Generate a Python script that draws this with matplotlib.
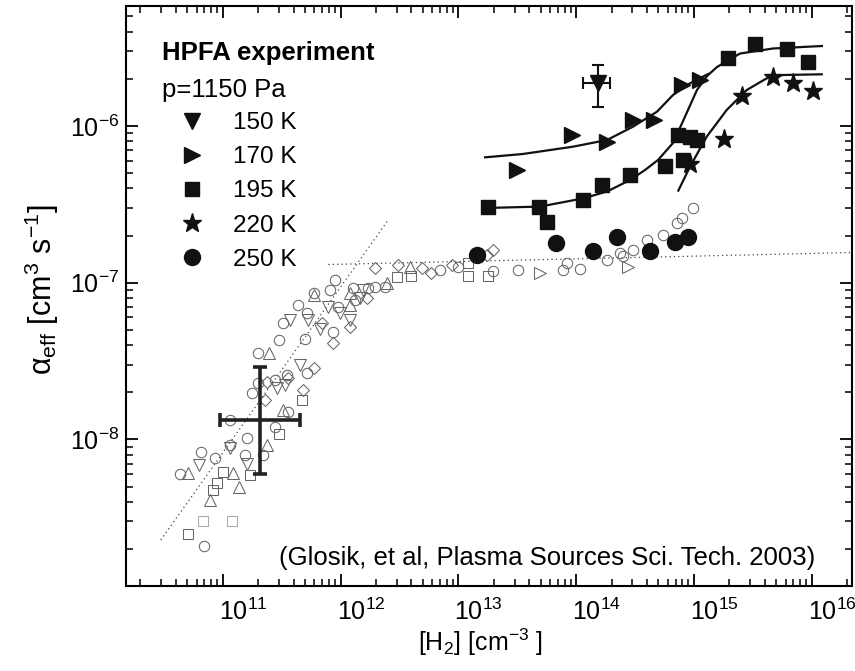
import matplotlib
matplotlib.use("Agg")
import matplotlib.pyplot as plt
from matplotlib.transforms import ScaledTranslation
import numpy as np

plt.rcParams['font.family'] = ['Liberation Sans', 'DejaVu Sans']
plt.rcParams['mathtext.fontset'] = 'custom'
plt.rcParams['mathtext.rm'] = 'Liberation Sans'
plt.rcParams['mathtext.it'] = 'Liberation Sans:italic'
plt.rcParams['mathtext.bf'] = 'Liberation Sans:bold'
plt.rcParams['mathtext.default'] = 'regular'
plt.rcParams['axes.unicode_minus'] = False

# ---------------- HPFA data (filled symbols) ----------------
x_150 = [1.54e14]
y_150 = [1.87e-6]
x_150_lo, x_150_hi = [1.15e14], [1.94e14]
y_150_lo, y_150_hi = [1.315e-6], [2.45e-6]

x_170 = [3.13e13, 9.18e13, 1.82e14, 3.06e14, 4.59e14, 7.88e14, 1.13e15]
y_170 = [5.24e-7, 8.77e-7, 7.94e-7, 1.10e-6, 1.09e-6, 1.83e-6, 1.97e-6]

x_195 = [1.78e13, 4.84e13, 5.70e13, 1.14e14, 1.67e14, 2.87e14, 5.69e14, 7.33e14,
         8.08e14, 9.27e14, 1.06e15, 1.95e15, 3.30e15, 6.14e15, 9.31e15]
y_195 = [3.05e-7, 3.03e-7, 2.45e-7, 3.37e-7, 4.20e-7, 4.86e-7, 5.56e-7, 8.77e-7,
         6.07e-7, 8.51e-7, 8.15e-7, 2.72e-6, 3.33e-6, 3.09e-6, 2.56e-6]

x_220 = [9.27e14, 1.80e15, 2.55e15, 4.67e15, 6.90e15, 1.02e16]
y_220 = [5.71e-7, 8.22e-7, 1.55e-6, 2.05e-6, 1.89e-6, 1.68e-6]

x_250 = [1.43e13, 6.75e13, 1.40e14, 2.21e14, 4.24e14, 6.92e14, 8.96e14]
y_250 = [1.50e-7, 1.80e-7, 1.60e-7, 1.97e-7, 1.60e-7, 1.83e-7, 1.97e-7]

# fitted curves
fit170_x = [1.69e13, 3.54e13, 9.42e13, 1.83e14, 3.04e14, 4.86e14, 6.65e14, 9.27e14, 1.32e15]
fit170_y = [6.31e-7, 6.63e-7, 7.38e-7, 8.14e-7, 9.90e-7, 1.234e-6, 1.577e-6, 1.873e-6, 2.147e-6]

fit195_x = [1.787e13, 4.94e13, 1.145e14, 1.83e14, 2.87e14, 3.85e14, 4.96e14, 6.65e14,
            8.09e14, 1.062e15, 1.292e15, 1.571e15, 2.46e15, 4.69e15, 1.222e16]
fit195_y = [3.00e-7, 3.06e-7, 3.45e-7, 3.82e-7, 4.52e-7, 5.24e-7, 6.07e-7, 7.79e-7,
            1.076e-6, 1.697e-6, 2.084e-6, 2.379e-6, 2.90e-6, 3.124e-6, 3.24e-6]

fit220_x = [7.38e14, 9.27e14, 1.285e15, 1.898e15, 2.81e15, 4.15e15, 5.74e15, 1.217e16]
fit220_y = [3.87e-7, 5.50e-7, 8.55e-7, 1.265e-6, 1.697e-6, 2.015e-6, 2.116e-6, 2.138e-6]

# dotted guide lines
dot_steep_x = [2.98e10, 2.52e12]
dot_steep_y = [2.28e-9, 2.49e-7]
dot_flat_x = [7.88e11, 2.2e16]
dot_flat_y = [1.306e-7, 1.558e-7]

# representative error cross
cross_x, cross_y = [2.07e11], [1.33e-8]
cross_x_lo, cross_x_hi = [9.49e10], [4.53e11]
cross_y_lo, cross_y_hi = [6.01e-9], [2.91e-8]

# ---------------- other data (open symbols) ----------------
oc_x = [4.3e10, 6.5e10, 8.6e10, 1.15e11, 1.6e11, 1.55e11, 2.2e11, 7.0e10, 2.8e11, 3.6e11,
        1.15e11, 2.0e11, 2.0e11, 1.76e11, 2.8e11, 3.5e11, 5.2e11, 3.0e11, 3.27e11, 4.38e11,
        5.0e11, 5.2e11, 5.96e11, 8.7e11, 9.0e11, 8.1e11, 9.6e11, 1.28e12, 1.33e12, 1.72e12,
        1.96e12, 2.39e12, 7.0e12, 1.0e13, 1.98e13, 3.23e13, 8.3e13, 7.8e13, 1.08e14, 1.82e14,
        2.36e14, 3.06e14, 2.52e14, 3.97e14, 5.5e14, 7.14e14, 7.88e14, 9.9e14]
oc_y = [6.0e-9, 8.3e-9, 7.6e-9, 9.2e-9, 1.02e-8, 7.95e-9, 7.95e-9, 2.1e-9, 1.2e-8, 1.5e-8,
        1.33e-8, 3.58e-8, 2.28e-8, 1.97e-8, 2.39e-8, 2.58e-8, 2.64e-8, 4.3e-8, 5.5e-8, 7.2e-8,
        4.4e-8, 6.4e-8, 8.6e-8, 4.87e-8, 1.04e-7, 9.0e-8, 7.0e-8, 9.2e-8, 7.8e-8, 9.2e-8,
        9.4e-8, 9.4e-8, 1.2e-7, 1.26e-7, 1.19e-7, 1.2e-7, 1.33e-7, 1.2e-7, 1.22e-7, 1.40e-7,
        1.54e-7, 1.62e-7, 1.47e-7, 1.87e-7, 2.02e-7, 2.39e-7, 2.58e-7, 2.98e-7]

ut_x = [5.1e10, 7.8e10, 1.22e11, 1.38e11, 2.36e11, 3.27e11, 2.49e11, 5.9e11, 1.2e12, 1.2e12, 2.47e12, 3.9e12]
ut_y = [6.1e-9, 4.1e-9, 6.1e-9, 5.0e-9, 9.2e-9, 1.54e-8, 3.58e-8, 8.3e-8, 7.2e-8, 8.6e-8, 9.9e-8, 1.26e-7]

dt_x = [6.3e10, 1.15e11, 1.6e11, 2.87e11, 3.38e11, 4.53e11, 3.73e11, 5.33e11, 6.7e11, 7.9e11,
        9.9e11, 1.2e12, 1.47e12, 1.56e12]
dt_y = [6.9e-9, 8.8e-9, 7.0e-9, 2.12e-8, 2.22e-8, 2.98e-8, 5.8e-8, 5.8e-8, 5.1e-8, 7.0e-8,
        6.4e-8, 5.8e-8, 7.95e-8, 9.0e-8]

sq_x = [8.3e10, 9.0e10, 1.01e11, 1.7e11, 5.1e10, 3.0e11, 4.7e11, 3.0e12, 4.0e12, 1.22e13, 1.22e13, 1.8e13]
sq_y = [4.75e-9, 5.3e-9, 6.2e-9, 5.9e-9, 2.5e-9, 1.09e-8, 1.78e-8, 1.09e-7, 1.1e-7, 1.33e-7, 1.1e-7, 1.1e-7]
lsq_x = [6.8e10, 1.21e11]
lsq_y = [3.0e-9, 3.0e-9]

di_x = [2.29e11, 2.36e11, 3.6e11, 5.9e11, 4.78e11, 6.9e11, 8.7e11, 1.2e12, 1.67e12, 1.96e12,
        3.1e12, 4.9e12, 5.9e12, 8.8e12, 1.96e13, 1.74e13]
di_y = [1.78e-8, 2.33e-8, 2.45e-8, 2.84e-8, 2.07e-8, 5.5e-8, 4.1e-8, 5.2e-8, 7.95e-8, 1.24e-7,
        1.3e-7, 1.24e-7, 1.15e-7, 1.3e-7, 1.62e-7, 1.5e-7]

rt_x = [4.94e13, 2.77e14]
rt_y = [1.15e-7, 1.26e-7]

x_ticks = [1e11, 1e12, 1e13, 1e14, 1e15, 1e16]
y_ticks = [1e-8, 1e-7, 1e-6]
legend_labels = ['150 K', '170 K', '195 K', '220 K', '250 K']

# ---------------- figure ----------------
fig = plt.figure(figsize=(8.55, 6.71), dpi=100)
ax = fig.add_axes([0.1474, 0.1271, 0.8491, 0.8639])
ax.set_xscale('log')
ax.set_yscale('log')

gray = '#666666'
ow = 0.75
ax.plot(dot_steep_x, dot_steep_y, ls=(0, (1, 2.5)), color='#444444', lw=0.9)
ax.plot(dot_flat_x, dot_flat_y, ls=(0, (1, 2.5)), color='#444444', lw=0.9)

ax.plot(oc_x, oc_y, 'o', ms=7.5, mfc='none', mec=gray, mew=ow)
ax.plot(ut_x, ut_y, '^', ms=8, mfc='none', mec=gray, mew=ow)
ax.plot(dt_x, dt_y, 'v', ms=8, mfc='none', mec=gray, mew=ow)
ax.plot(sq_x, sq_y, 's', ms=6.5, mfc='none', mec=gray, mew=ow)
ax.plot(lsq_x, lsq_y, 's', ms=6.5, mfc='none', mec='#aaaaaa', mew=ow)
ax.plot(di_x, di_y, 'D', ms=6.5, mfc='none', mec=gray, mew=ow)
ax.plot(rt_x, rt_y, '>', ms=8, mfc='none', mec=gray, mew=ow)

ax.errorbar(cross_x, cross_y,
            xerr=[np.subtract(cross_x, cross_x_lo), np.subtract(cross_x_hi, cross_x)],
            yerr=[np.subtract(cross_y, cross_y_lo), np.subtract(cross_y_hi, cross_y)],
            fmt='none', ecolor='#222222', elinewidth=2.6, capsize=5, capthick=2.6)

k = '#111111'
ax.plot(fit170_x, fit170_y, '-', color=k, lw=1.6)
ax.plot(fit195_x, fit195_y, '-', color=k, lw=1.6)
ax.plot(fit220_x, fit220_y, '-', color=k, lw=1.6)

ax.errorbar(x_150, y_150,
            xerr=[np.subtract(x_150, x_150_lo), np.subtract(x_150_hi, x_150)],
            yerr=[np.subtract(y_150, y_150_lo), np.subtract(y_150_hi, y_150)],
            fmt='none', ecolor=k, elinewidth=1.5, capsize=4, capthick=1.5)
h150, = ax.plot(x_150, y_150, 'v', ms=12, color=k, ls='none')
h170, = ax.plot(x_170, y_170, '>', ms=12, color=k, ls='none')
h195, = ax.plot(x_195, y_195, 's', ms=10.5, color=k, ls='none')
h220, = ax.plot(x_220, y_220, '*', ms=14, color=k, ls='none')
h250, = ax.plot(x_250, y_250, 'o', ms=11.5, color=k, ls='none')

ax.set_xlim(1.51e10, 2.2e16)
ax.set_ylim(1.164e-9, 5.83e-6)
ax.set_xticks(x_ticks)
ax.set_yticks(y_ticks)

for sp in ax.spines.values():
    sp.set_linewidth(1.5)
ax.tick_params(which='both', direction='in', top=True, right=True, labelsize=18)
ax.tick_params(which='major', length=8.5, width=1.3, pad=5)
ax.tick_params(which='minor', length=5, width=1.1)
ax.tick_params(axis='x', which='major', pad=9)
shift = ScaledTranslation(-4 / 100, 0, fig.dpi_scale_trans)
for lab in ax.get_xticklabels():
    lab.set_horizontalalignment('left')
    lab.set_transform(lab.get_transform() + shift)

ax.set_xlabel(r'[H$_2$] [cm$^{-3}$ ]', fontsize=18)
ax.xaxis.set_label_coords(0.4876, -0.07)
ax.set_ylabel(r'$\alpha_{eff}$ [cm$^3$ s$^{-1}$]', fontsize=22)
ax.yaxis.set_label_coords(-0.09, 0.51)

fig.text(161.7 / 855, 1 - 60 / 671, 'HPFA experiment', fontsize=18.5, fontweight='bold', va='baseline')
fig.text(161.7 / 855, 1 - 96.7 / 671, 'p=1150 Pa', fontsize=18.5, va='baseline')

leg = ax.legend([h150, h170, h195, h220, h250], legend_labels,
                loc='upper left', bbox_to_anchor=((180 - 126) / 726, (585.7 - 112) / 579.7),
                frameon=False, fontsize=17.5, numpoints=1, handlelength=1.0,
                handletextpad=1.2, labelspacing=0.5, borderpad=0, borderaxespad=0)

fig.text(815 / 855, 1 - 565 / 671, '(Glosik, et al, Plasma Sources Sci. Tech. 2003)',
         fontsize=18.5, ha='right', va='baseline')

fig.savefig('out.png', dpi=100)
